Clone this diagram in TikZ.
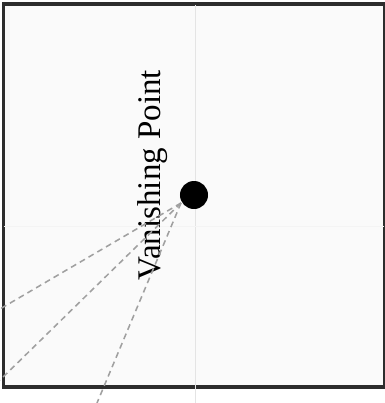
\documentclass[tikz,border=0pt]{standalone}
\usepackage{fontspec}
\setmainfont{Liberation Serif}
\usepackage{xcolor}
\usepackage{tikz}
\definecolor{frame}{RGB}{45,45,45}
\definecolor{paper}{RGB}{250,250,250}
\definecolor{guideline}{RGB}{228,228,228}
\definecolor{ray}{RGB}{160,160,160}

\begin{document}
\begin{tikzpicture}[
  x=0.025cm, y=-0.025cm,
  framebox/.style={draw=frame, line width=2.4pt, fill=paper},
  guide/.style={draw=guideline, line width=0.6pt},
  vpdot/.style={circle, fill=black, inner sep=0pt, minimum size=0.7cm},
  sightline/.style={draw=ray, line width=1.1pt, dash pattern=on 4.2pt off 3pt},
  vplabel/.style={rotate=90, font=\fontsize{23.5}{28}\selectfont}]

  \useasboundingbox (0,0) rectangle (385,403);
  \fill[white] (0,0) rectangle (385,403);

  % picture plane
  \draw[framebox] (3.5,4) rectangle (384.5,387);
  \draw[guide] (195,5) -- (195,403);
  \draw[guide, draw=guideline!40] (4,226) -- (384,226);

  % vanishing point
  \node[vpdot] (vp) at (194,195) {};
  \node[vplabel] (vplbl) at (153,175) {Vanishing Point};

  % rays
  \coordinate (src) at (181,203);
  \coordinate (r1) at (0,309);
  \coordinate (r2) at (0,380);
  \coordinate (r3) at (97,403);
  \draw[sightline] (src) -- (r1);
  \draw[sightline] (src) -- (r2);
  \draw[sightline] (src) -- (r3);
\end{tikzpicture}
\end{document}
